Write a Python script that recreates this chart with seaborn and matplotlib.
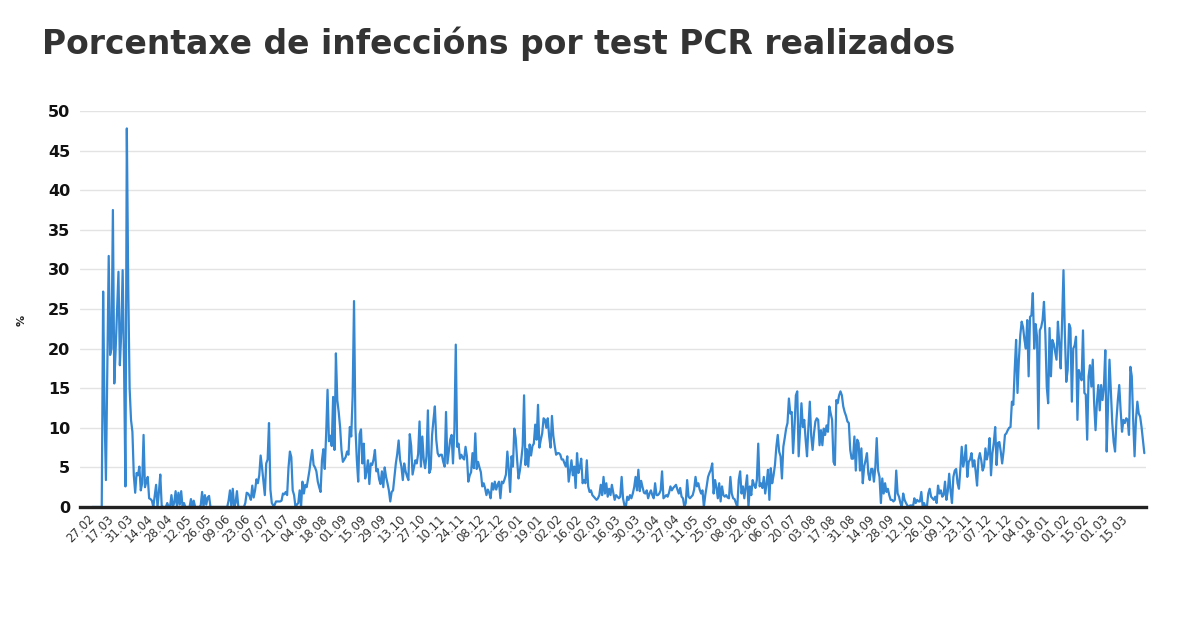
import matplotlib
matplotlib.use("Agg")
import matplotlib.pyplot as plt
import seaborn as sns
import numpy as np
import pandas as pd

title = "Porcentaxe de infeccións por test PCR realizados"
y_label = "%"

tick_labels = ["27.02", "17.03", "31.03", "14.04", "28.04", "12.05", "26.05", "09.06",
               "23.06", "07.07", "21.07", "04.08", "18.08", "01.09", "15.09", "29.09",
               "13.10", "27.10", "10.11", "24.11", "08.12", "22.12", "05.01", "19.01",
               "02.02", "16.02", "02.03", "16.03", "30.03", "13.04", "27.04", "11.05",
               "25.05", "08.06", "22.06", "06.07", "20.07", "03.08", "17.08", "31.08",
               "14.09", "28.09", "12.10", "26.10", "09.11", "23.11", "07.12", "21.12",
               "04.01", "18.01", "01.02", "15.02", "01.03", "15.03"]

# percentage values, one per day, grouped by the 14-day label blocks
pct_2020 = [
    0, 0, 0, 0, 0, 0, 0, 0, 27.2, 12, 3.4, 18, 31.7, 19.2,
    20, 37.5, 15.6, 20, 25, 29.7, 17.9, 22, 29.9, 18, 2.6, 47.8, 28, 15,
    11, 9.5, 4, 1.8, 4.3, 4.0, 5.1, 2.1, 3, 9.1, 2.5, 3.2, 3.8, 1.1,
    1.0, 0.8, 0, 1.4, 2.8, 0, 1.9, 4.1, 0.2, 0, 0, 0, 0.5, 0,
    0, 1.5, 0, 0.5, 2.0, 0, 1.8, 0.3, 2.0, 0, 0.5, 0, 0, 0,
    0, 1.0, 0, 0.8, 0, 0, 0, 0, 0.2, 1.9, 0, 1.5, 0.3, 1.2,
    1.4, 0, 0, 0, 0, 0, 0, 0, 0, 0, 0, 0, 0, 0,
    0.8, 2.1, 0, 2.3, 0, 0.5, 2.0, 0, 0, 0, 0, 0, 0.5, 1.8,
    1.7, 1.4, 0.9, 2.7, 1.2, 2.1, 3.5, 3.0, 4.0, 6.5, 5.0, 3.2, 1.5, 5.5,
    6.0, 10.6, 2.2, 0.5, 0.2, 0.25, 0.7, 0.7, 0.7, 0.7, 0.8, 1.7, 1.6, 1.9,
    1.5, 5.0, 7.0, 6.3, 2.1, 1.5, 0, 0.3, 0.5, 2.1, 0, 3.2, 1.7, 2.8,
    2.5, 3.5, 4.6, 6.0, 7.2, 5.3, 5.0, 4.5, 3.2, 2.5, 1.9, 5.9, 7.3, 4.8,
    9.2, 14.8, 8.3, 9.0, 7.7, 13.9, 7.2, 19.4, 13.5, 12.0, 10.1, 7.2, 5.7, 6.0,
    6.3, 7.0, 6.6, 10.1, 8.9, 14, 26, 10.1, 6, 3.2, 9.2, 9.8, 5.5, 8.0,
    3.6, 4.5, 5.9, 2.9, 5.5, 5.3, 6.0, 7.2, 4.5, 4.8, 3.5, 2.9, 4.5, 2.5,
    5.0, 3.8, 3.0, 2.1, 0.7, 1.9, 2.1, 3.8, 5.5, 6.7, 8.4, 6.0, 5.1, 3.4,
    5.5, 4.5, 3.9, 3.4, 9.2, 7.7, 4.1, 5.0, 5.9, 5.5, 6.7, 10.8, 5.1, 8.9,
    6.0, 4.9, 6.4, 12.2, 4.3, 4.8, 9.1, 11.0, 12.7, 8.5, 6.8, 6.4, 6.6, 6.6,
    5.7, 5.1, 12.0, 5.5, 7.0, 8.5, 9.1, 5.5, 9.7, 20.5, 7.6, 8.0, 6.1, 6.6,
    6.2, 6.0, 7.6, 6.4, 3.2, 4.0, 4.4, 6.8, 4.9, 9.3, 4.8, 5.7, 5.0, 4.4,
    2.6, 3.0, 2.4, 1.5, 2.2, 1.8, 1.1, 3.0, 2.2, 3.2, 2.2, 2.8, 3.2, 1.1,
    3.2, 3.0, 3.5, 4.1, 7.0, 4.8, 1.9, 6.4, 5.1, 9.9, 8.7, 6.0, 3.6, 4.6,
]
pct_2021 = [
    6.0, 7.7, 14.1, 5.3, 7.3, 5.1, 7.9, 6.5, 7.7, 8.0, 10.4, 8.5, 12.9, 7.5,
    8.5, 9.3, 11.2, 11.0, 10.0, 11.2, 8.9, 7.5, 11.5, 9.0, 7.7, 6.6, 6.8, 6.8,
    6.6, 6.0, 6.0, 5.5, 5.1, 6.4, 3.2, 4.5, 5.9, 4.0, 5.1, 2.4, 6.8, 4.3,
    5.0, 6.1, 3.0, 3.4, 3.0, 5.9, 2.6, 1.9, 2.1, 1.5, 1.3, 1.1, 0.9, 1.1,
    1.5, 2.8, 1.5, 3.8, 1.7, 3.0, 1.3, 2.3, 1.5, 2.8, 1.8, 0.9, 1.5, 1.3,
    1.1, 1.3, 3.8, 1.1, 0.2, 0, 1.3, 0.9, 1.5, 1.1, 1.7, 2.5, 3.8, 2.1,
    4.7, 2.0, 3.3, 2.5, 1.8, 1.7, 2.1, 1.1, 1.7, 2.1, 1.5, 1.1, 3.0, 1.5,
    1.5, 1.7, 2.1, 4.5, 1.1, 1.3, 1.5, 1.3, 1.8, 2.6, 2.1, 2.4, 2.6, 2.8,
    2.2, 1.7, 2.4, 1.3, 1.1, 0, 0.5, 3.4, 1.3, 1.1, 1.3, 1.5, 2.2, 3.8,
    2.6, 3.0, 2.2, 1.7, 2.1, 0, 1.5, 2.6, 3.8, 4.3, 4.7, 5.5, 1.7, 3.4,
    2.5, 1.1, 3.0, 0.7, 2.6, 1.5, 1.3, 1.5, 1.2, 1.1, 3.8, 1.7, 1.1, 1.0,
    0.5, 0, 3.4, 4.5, 1.7, 2.6, 1.1, 2.5, 4.0, 0, 2.6, 1.5, 3.4, 2.8,
    2.4, 3.4, 8.0, 2.6, 3.0, 2.4, 3.8, 1.7, 3.0, 4.7, 0.9, 4.9, 3.0, 4.0,
    5.3, 7.6, 9.1, 7.0, 6.4, 3.6, 7.6, 8.7, 9.9, 10.6, 13.7, 11.8, 12.0, 6.8,
    10.0, 14.1, 14.6, 6.4, 9.7, 13.1, 10.1, 11.0, 8.5, 6.4, 10.1, 13.3, 9.0, 7.2,
    9.3, 10.8, 11.2, 11.0, 7.8, 9.7, 7.8, 9.9, 9.1, 10.3, 9.5, 12.7, 11.8, 11.0,
    5.7, 5.3, 13.5, 13.1, 14.1, 14.6, 14.1, 12.7, 12.0, 11.5, 10.8, 10.6, 7.2, 6.1,
    6.1, 8.9, 4.6, 8.5, 8.1, 4.6, 7.4, 3.0, 5.1, 5.9, 6.8, 4.2, 3.4, 4.8,
    4.8, 3.2, 5.0, 8.7, 4.6, 3.8, 0.5, 3.6, 1.7, 3.0, 1.9, 2.3, 1.5, 0.9,
    0.9, 0.7, 0.9, 4.6, 1.7, 1.3, 0.5, 0, 1.7, 0.9, 0.5, 0.2, 0, 0.2,
    0.2, 0, 1.1, 0.5, 0.9, 0.7, 0.7, 1.9, 0, 0.5, 0, 0, 1.7, 2.3,
    1.3, 1.1, 0.9, 1.3, 0.5, 2.7, 1.7, 2.1, 1.3, 1.5, 3.2, 0.9, 2.0, 4.2,
    2.0, 0.5, 3.8, 4.6, 4.8, 3.0, 2.3, 4.8, 7.6, 5.1, 6.0, 7.8, 3.8, 5.7,
    6.0, 6.8, 5.1, 5.9, 4.5, 2.7, 6.0, 6.8, 5.9, 4.6, 5.1, 7.4, 6.0, 6.8,
    8.7, 4.0, 6.8, 8.1, 10.1, 5.3, 8.1, 8.2, 7.0, 5.5, 7.0, 9.1, 9.3, 9.7,
]
pct_2022 = [
    10.0, 10.1, 13.3, 12.9, 17.3, 21.1, 14.4, 18.6, 21.7, 23.4, 22.7, 21.1, 20.0, 23.6,
    16.5, 24.0, 24.2, 27.0, 20.0, 23.1, 21.5, 9.9, 22.3, 22.7, 23.6, 25.9, 21.8, 15.2,
    13.1, 22.6, 16.5, 21.1, 20.6, 19.6, 18.6, 23.4, 20.6, 17.5, 23.4, 29.9, 21.8, 15.8,
    17.3, 23.1, 22.6, 13.3, 20.0, 20.4, 21.5, 11.0, 17.3, 16.5, 16.0, 22.3, 14.4, 14.2,
    8.5, 16.5, 17.9, 15.2, 18.6, 13.1, 9.7, 13.3, 15.4, 12.2, 15.4, 13.5, 15.2, 19.8,
    7.0, 13.1, 18.6, 14.7, 10.6, 8.2, 7.0, 11.0, 13.5, 15.4, 12.2, 9.5, 11.0, 10.6,
    11.2, 11.0, 9.1, 17.7, 16.5, 11.0, 6.4, 11.0, 13.3, 11.8, 11.4, 10.1, 8.5, 6.8,
]

values = pct_2020 + pct_2021 + pct_2022
df = pd.DataFrame({"dia": np.arange(len(values)), "pct": values})

sns.set_theme(style="white")
plt.rcParams["font.family"] = ["DejaVu Sans"]

fig = plt.figure(figsize=(12, 6.28), dpi=100)
ax = fig.add_axes([80 / 1200, 1 - 507 / 628, 1066 / 1200, 396 / 628])

sns.lineplot(data=df, x="dia", y="pct", ax=ax, color="#3587d2", linewidth=1.6)

ax.set_ylim(0, 50)
ax.set_xlim(-8.6, len(values) + 0.2)
ax.set_yticks(range(0, 51, 5))
ax.yaxis.grid(True, color="#e3e3e3", linewidth=1.0)
ax.xaxis.grid(False)
ax.set_axisbelow(True)

for side in ("top", "right", "left"):
    ax.spines[side].set_visible(False)
ax.spines["bottom"].set_color("#222222")
ax.spines["bottom"].set_linewidth(2.4)
ax.spines["bottom"].set_zorder(3)

ax.set_xticks(np.arange(0, 14 * len(tick_labels), 14))
ax.set_xticklabels(tick_labels, rotation=45, ha="right", va="center",
                   rotation_mode="anchor", fontsize=8.5, color="#333333")
ax.tick_params(axis="x", length=0, pad=7)
ax.tick_params(axis="y", length=0, pad=7, labelsize=11.5, labelcolor="#111111")
for lab in ax.get_yticklabels():
    lab.set_fontweight("bold")

ax.set_xlabel("")
ax.set_ylabel(y_label, fontsize=8, fontweight="bold", color="#222222")
ax.yaxis.set_label_coords(-0.05, 0.47)

fig.text(42 / 1200, 1 - 44 / 628, title, fontsize=23.8, fontweight="bold",
         color="#333333", ha="left", va="center")

fig.savefig("out.png", dpi=100, facecolor="white")
